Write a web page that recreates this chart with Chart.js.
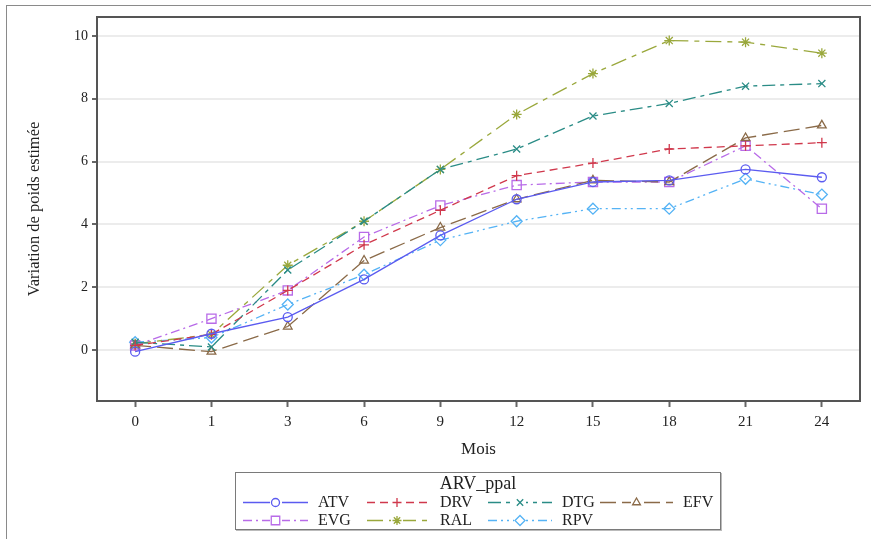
<!DOCTYPE html>
<html>
<head>
<meta charset="utf-8">
<script src="https://cdn.jsdelivr.net/npm/chart.js@4.4.1/dist/chart.umd.min.js"></script>
<style>
    body { margin: 0; background: #fff; font-family: "Liberation Serif", serif; }
    #frame { position: absolute; left: 6px; top: 5px; width: 900px; height: 600px;
             border-left: 1px solid #8a8a8a; border-top: 1px solid #8a8a8a; }
    #wrap { position: absolute; left: 0; top: 0; width: 871px; height: 539px; }
    #legend { position: absolute; left: 235px; top: 472px; width: 484px; height: 56px;
              border: 1px solid #7a7a7a; box-shadow: 1px 1px 0 #bbb; background: #fff; }
    #legend .title { position: absolute; left: 0; width: 100%; top: 0px; text-align: center;
                     font-size: 18px; line-height: 20px; color: #222; }
    #legend .item { position: absolute; height: 18px; font-size: 16px; color: #222; }
    #legend .item canvas { position: absolute; left: 0; top: 0; }
    #legend .item span { position: absolute; top: 0; line-height: 18px; }
</style>
</head>
<body>
<div id="frame"></div>
<div id="wrap"><canvas id="weightChart" width="871" height="539"></canvas></div>
<div id="legend"><div class="title">ARV_ppal</div></div>

<script>
// Months (x categories) and y tick values
const months = ["0", "1", "3", "6", "9", "12", "15", "18", "21", "24"];
const yTicks = [0, 2, 4, 6, 8, 10];

// Estimated weight change per ARV
const atv = [-0.05, 0.52, 1.05, 2.25, 3.65, 4.8, 5.35, 5.4, 5.75, 5.5];
const drv = [0.15, 0.5, 1.9, 3.35, 4.45, 5.55, 5.95, 6.4, 6.5, 6.6];
const dtg = [0.25, 0.1, 2.55, 4.1, 5.75, 6.4, 7.45, 7.85, 8.4, 8.48];
const efv = [0.15, -0.05, 0.75, 2.85, 3.9, 4.8, 5.4, 5.35, 6.75, 7.15];
const evg = [0.15, 1.0, 1.9, 3.6, 4.6, 5.25, 5.35, 5.35, 6.5, 4.5];
const ral = [0.2, 0.5, 2.7, 4.1, 5.75, 7.5, 8.8, 9.85, 9.8, 9.45];
const rpv = [0.25, 0.4, 1.45, 2.4, 3.5, 4.1, 4.5, 4.5, 5.45, 4.95];

const seriesNames = ["ATV", "DRV", "DTG", "EFV", "EVG", "RAL", "RPV"];
const seriesData = [atv, drv, dtg, efv, evg, ral, rpv];
const seriesColors = ["#5b5bf0", "#d0384c", "#2a8c86", "#8a6a48", "#b86be8", "#9aa83c", "#55b3f5"];
const seriesDash = [[], [8, 5], [13, 5, 4, 5], [16, 6], [9, 4, 2, 4], [16, 6, 5, 6], [9, 4, 2, 4, 2, 4]];
const seriesPoints = ["circle", "cross", "crossRot", "triangle", "rect", "star", "rectRot"];
const seriesRadius = [4.5, 5, 5, 5, 6.5, 5, 5.5];

const datasets = seriesNames.map((name, i) => ({
    label: name,
    data: seriesData[i],
    borderColor: seriesColors[i],
    borderWidth: 1.3,
    borderDash: seriesDash[i],
    pointStyle: seriesPoints[i],
    pointRadius: seriesRadius[i],
    pointBorderWidth: 1.3,
    pointBorderColor: seriesColors[i],
    pointBackgroundColor: "rgba(0,0,0,0)",
    tension: 0,
    fill: false
}));

// Box around the plot area
const frameBox = {
    id: "frameBox",
    afterDraw(chart) {
        const a = chart.chartArea;
        const ctx = chart.ctx;
        ctx.save();
        ctx.strokeStyle = "#555";
        ctx.lineWidth = 2;
        ctx.strokeRect(a.left, a.top, a.right - a.left, a.bottom - a.top);
        ctx.restore();
    }
};

const serif = "'Liberation Serif', 'Times New Roman', serif";

new Chart(document.getElementById("weightChart"), {
    type: "line",
    data: { labels: months, datasets: datasets },
    plugins: [frameBox],
    options: {
        responsive: false,
        animation: false,
        layout: { padding: { left: 0, top: 17, right: 11, bottom: 75 } },
        plugins: { legend: { display: false }, tooltip: { enabled: false } },
        scales: {
            x: {
                offset: true,
                grid: { drawOnChartArea: false, tickLength: 6, tickColor: "#666", tickWidth: 2 },
                border: { color: "#555", width: 2 },
                ticks: { color: "#222", font: { family: serif, size: 15 }, padding: 6, maxRotation: 0 },
                title: { display: true, text: "Mois", color: "#222", font: { family: serif, size: 17 }, padding: { top: 11 } },
                afterFit(scale) { scale.height = 63; }
            },
            y: {
                min: -1.62,
                max: 10.6,
                afterBuildTicks(scale) { scale.ticks = yTicks.map(v => ({ value: v })); },
                grid: { color: "#ececec", lineWidth: 2, tickLength: 5, tickColor: "#666", tickWidth: 2 },
                border: { color: "#555", width: 2 },
                ticks: { color: "#222", font: { family: serif, size: 14 }, padding: 4 },
                title: { display: true, text: "Variation de poids estimée", color: "#222", font: { family: serif, size: 16.5 }, padding: { top: 25 } },
                afterFit(scale) { scale.width = 97; }
            }
        }
    }
});

// HTML legend, samples drawn with the Chart.js point helper
const legend = document.getElementById("legend");
const colLeft = [7, 131, 252, 364];
const colLabel = [82, 204, 326, 447];
const sampleW = [65, 60, 64, 73];
seriesNames.forEach((name, i) => {
    const row = i < 4 ? 0 : 1;
    const col = i < 4 ? i : i - 4;
    const item = document.createElement("div");
    item.className = "item";
    item.style.left = colLeft[col] + "px";
    item.style.top = (row === 0 ? 20 : 38) + "px";
    item.style.width = "120px";
    const c = document.createElement("canvas");
    const w = sampleW[col];
    c.width = w; c.height = 18;
    const ctx = c.getContext("2d");
    ctx.strokeStyle = seriesColors[i];
    ctx.lineWidth = 1.3;
    ctx.setLineDash(seriesDash[i]);
    ctx.beginPath();
    ctx.moveTo(0, 9.5);
    ctx.lineTo(w, 9.5);
    ctx.stroke();
    ctx.setLineDash([]);
    ctx.clearRect(w / 2 - 6, 2, 12, 15);
    ctx.fillStyle = "rgba(0,0,0,0)";
    ctx.strokeStyle = seriesColors[i];
    ctx.lineWidth = 1.3;
    Chart.helpers.drawPoint(ctx, { pointStyle: seriesPoints[i], radius: seriesRadius[i] - 0.5, borderWidth: 1.3 }, w / 2, 9.5);
    item.appendChild(c);
    const label = document.createElement("span");
    label.style.left = (colLabel[col] - colLeft[col]) + "px";
    label.textContent = name;
    item.appendChild(label);
    legend.appendChild(item);
});
</script>
</body>
</html>
